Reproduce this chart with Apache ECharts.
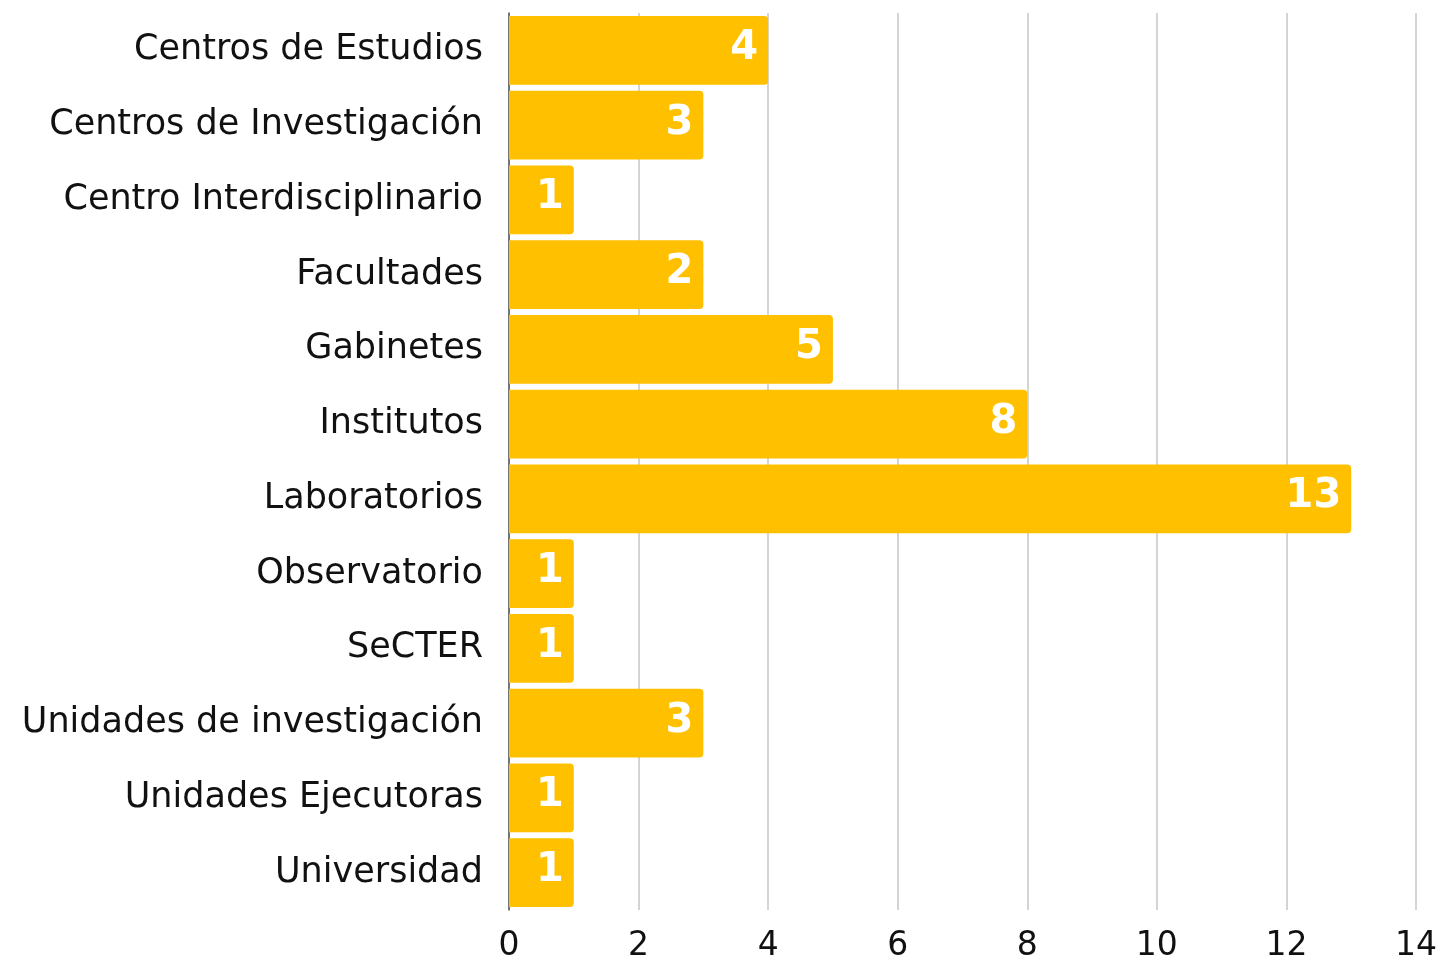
<!DOCTYPE html>
<html>
<head>
<meta charset="utf-8">
<script src="https://cdn.jsdelivr.net/npm/echarts@6/dist/echarts.min.js"></script>
<style>
html,body{margin:0;padding:0;background:#fff;}
#chart{width:1440px;height:963px;}
</style>
</head>
<body>
<div id="chart"></div>
<script>
const categories = ["Centros de Estudios","Centros de Investigación","Centro Interdisciplinario","Facultades","Gabinetes","Institutos","Laboratorios","Observatorio","SeCTER","Unidades de investigación","Unidades Ejecutoras","Universidad"];
const barValues = [4,3,1,3,5,8,13,1,1,3,1,1];
const labelValues = [4,3,1,2,5,8,13,1,1,3,1,1];
const xTicks = [0,2,4,6,8,10,12,14];

const FONT = "DejaVu Sans";
const chart = echarts.init(document.getElementById('chart'));
chart.setOption({
  animation:false,
  grid:{left:509,right:21,top:13,bottom:45,containLabel:false},
  xAxis:{
    type:'value',min:0,max:14,interval:2,
    axisLine:{show:false},axisTick:{show:false},
    splitLine:{show:true,lineStyle:{color:'#c6c6c6',width:1.5}},
    axisLabel:{color:'#111',fontFamily:FONT,fontSize:33,margin:20,
      formatter:v=>xTicks.indexOf(v)>=0?String(v):''}
  },
  yAxis:{
    type:'category',data:categories,inverse:true,
    axisLine:{show:true,lineStyle:{color:'#555',width:1.5}},
    axisTick:{show:false},
    axisLabel:{color:'#111',fontFamily:FONT,fontSize:35,margin:26}
  },
  series:[{
    type:'bar',
    data:barValues,
    barCategoryGap:'8%',
    itemStyle:{color:'#FFC000',borderRadius:[0,4,4,0]},
    label:{show:true,position:'insideRight',offset:[-5,-2],color:'#fff',fontFamily:FONT,fontWeight:'bold',fontSize:40,
      formatter:p=>String(labelValues[p.dataIndex])}
  }]
});
</script>
</body>
</html>
